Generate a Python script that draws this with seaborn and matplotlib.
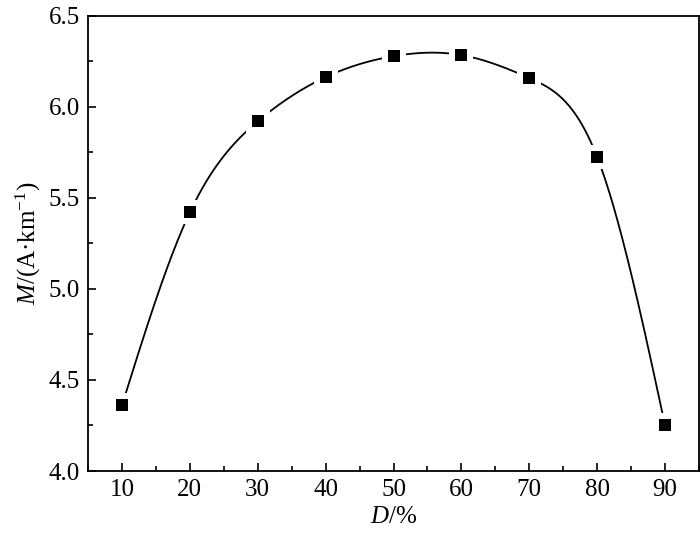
import numpy as np
import pandas as pd
import matplotlib
matplotlib.use('Agg')
import matplotlib.pyplot as plt
import seaborn as sns
from matplotlib.ticker import MultipleLocator

# data
d_pct = [10, 20, 30, 40, 50, 60, 70, 80, 90]
m_val = [4.36, 5.42, 5.92, 6.163, 6.278, 6.284, 6.158, 5.724, 4.25]

sns.set_style('ticks')
plt.rcParams['font.family'] = ['Liberation Serif', 'DejaVu Serif']
plt.rcParams['mathtext.fontset'] = 'custom'
plt.rcParams['mathtext.rm'] = 'Liberation Serif'
plt.rcParams['mathtext.it'] = 'Liberation Serif:italic'
plt.rcParams['text.color'] = 'black'
plt.rcParams['axes.labelcolor'] = 'black'
plt.rcParams['xtick.color'] = 'black'
plt.rcParams['ytick.color'] = 'black'


# natural cubic spline through the points (smooth connecting line)
def natural_spline(x, y, n=400):
    x = np.asarray(x, float)
    y = np.asarray(y, float)
    k = len(x)
    h = np.diff(x)
    A = np.zeros((k, k))
    b = np.zeros(k)
    A[0, 0] = A[-1, -1] = 1
    for i in range(1, k - 1):
        A[i, i - 1] = h[i - 1]
        A[i, i] = 2 * (h[i - 1] + h[i])
        A[i, i + 1] = h[i]
        b[i] = 6 * ((y[i + 1] - y[i]) / h[i] - (y[i] - y[i - 1]) / h[i - 1])
    M = np.linalg.solve(A, b)
    xs = np.linspace(x[0], x[-1], n)
    idx = np.clip(np.searchsorted(x, xs) - 1, 0, k - 2)
    x0, x1 = x[idx], x[idx + 1]
    hh = x1 - x0
    ys = (M[idx] * (x1 - xs) ** 3 / (6 * hh) + M[idx + 1] * (xs - x0) ** 3 / (6 * hh)
          + (y[idx] / hh - M[idx] * hh / 6) * (x1 - xs)
          + (y[idx + 1] / hh - M[idx + 1] * hh / 6) * (xs - x0))
    return xs, ys


xs, ys = natural_spline(d_pct, m_val)
curve = pd.DataFrame({'D': xs, 'M': ys})
pts = pd.DataFrame({'D': d_pct, 'M': m_val})

fig = plt.figure(figsize=(7, 5.37), dpi=100)
ax = fig.add_axes([0.1257, 0.1229, 0.8729, 0.8478])

sns.lineplot(data=curve, x='D', y='M', color='black', lw=1.3, ax=ax, zorder=2)
# white halo so the line stops short of each marker
sns.scatterplot(data=pts, x='D', y='M', marker='s', s=300, color='white',
                linewidth=0, ax=ax, zorder=3)
sns.scatterplot(data=pts, x='D', y='M', marker='s', s=64, color='black',
                linewidth=0, ax=ax, zorder=4)

ax.set_xlim(5, 95)
ax.set_ylim(4.0, 6.5)
ax.xaxis.set_major_locator(MultipleLocator(10))
ax.xaxis.set_minor_locator(MultipleLocator(5))
ax.yaxis.set_minor_locator(MultipleLocator(0.25))
ax.set_yticks([4.0, 4.5, 5.0, 5.5, 6.0, 6.5])
ax.set_yticklabels(['4.0', '4.5', '5.0', '5.5', '6.0', '6.5'])
ax.tick_params(which='major', direction='in', length=6, width=1.2,
               labelsize=18, pad=6, top=False, right=False)
ax.tick_params(which='minor', direction='in', length=3.5, width=1.2,
               top=False, right=False)
for s in ax.spines.values():
    s.set_linewidth(1.3)
    s.set_color('black')

ax.set_xlabel(r'$\mathit{D}$/%', fontsize=18, labelpad=3)
ax.set_ylabel(r'$\mathit{M}$/(A·km$^{-1}$)', fontsize=18, labelpad=4)

fig.savefig('out.png', dpi=100)
